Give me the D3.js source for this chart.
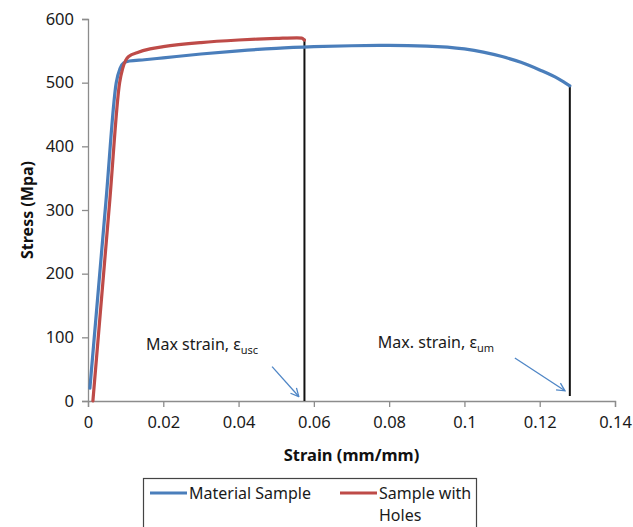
<!DOCTYPE html>
<html>
<head>
<meta charset="utf-8">
<script src="https://cdn.jsdelivr.net/npm/d3@7"></script>
<style>
  html, body { margin: 0; padding: 0; background: #fff; }
  svg { display: block; font-family: "Noto Sans", "Open Sans", sans-serif; }
</style>
</head>
<body>
<svg id="chart" width="633" height="527"></svg>
<script>
// Stress–strain curves (strain in mm/mm, stress in MPa)
const materialStrain = [0.0005, 0.0048, 0.0075, 0.0085, 0.0095, 0.011, 0.015, 0.02, 0.03, 0.04, 0.05, 0.06, 0.07, 0.08, 0.09, 0.1, 0.105, 0.11, 0.115, 0.12, 0.125, 0.128];
const materialStress = [20, 316, 500, 522, 531, 534, 536, 539, 545, 550, 554, 556.5, 558, 558.5, 557.5, 553, 548, 541, 532, 520, 506, 495];

const holesStrain = [0.0013, 0.0058, 0.0084, 0.0092, 0.0100, 0.011, 0.013, 0.0165, 0.02, 0.03, 0.04, 0.045, 0.05, 0.0555, 0.0568, 0.0575];
const holesStress = [0, 316, 500, 522, 535, 542, 547, 553, 556.5, 563, 567, 568.5, 569.5, 570.5, 570, 567];

// Fracture drop lines: [strain, top stress, bottom stress]
const dropStrain = [0.0575, 0.128];
const dropTop = [569, 495];
const dropBottom = [0, 8];

// Annotations
const noteText = ["Max strain, ε", "Max. strain, ε"];
const noteSub = ["usc", "um"];
const noteX = [0.0154, 0.077];
const noteY = [80, 83];
const arrowFrom = [[0.0489, 54], [0.1134, 67.5]];
const arrowTo = [[0.0560, 7], [0.1267, 16]];

const xTicks = [0, 0.02, 0.04, 0.06, 0.08, 0.1, 0.12, 0.14];
const yTicks = [0, 100, 200, 300, 400, 500, 600];

const seriesNames = ["Material Sample", "Sample with Holes"];
const seriesColors = ["#4a7ebb", "#be4b48"];

const svg = d3.select("#chart");
const margin = { left: 88, right: 18, top: 19, bottom: 126 };
const W = 633, H = 527;

const x = d3.scaleLinear().domain([0, 0.14]).range([margin.left, W - margin.right]);
const y = d3.scaleLinear().domain([0, 600]).range([H - margin.bottom, margin.top]);

svg.append("rect").attr("width", W).attr("height", H).attr("fill", "#fff");

// Axes
const axisColor = "#8c8c8c";
const xAxis = svg.append("g")
  .attr("transform", `translate(0,${y(0)})`)
  .call(d3.axisBottom(x).tickValues(xTicks).tickFormat(d => d3.format("~g")(d)).tickSize(6).tickPadding(9));
const yAxis = svg.append("g")
  .attr("transform", `translate(${x(0)},0)`)
  .call(d3.axisLeft(y).tickValues(yTicks).tickSize(6).tickPadding(8));
[xAxis, yAxis].forEach(g => {
  g.select(".domain").attr("stroke", axisColor).attr("stroke-width", 1.3);
  g.selectAll(".tick line").attr("stroke", axisColor).attr("stroke-width", 1.3);
  g.selectAll(".tick text").attr("fill", "#1a1a1a").attr("font-size", 16.5)
    .attr("font-family", "'Noto Sans', sans-serif");
});

// Axis titles
svg.append("text")
  .attr("x", (x(0) + x(0.14)) / 2).attr("y", 461)
  .attr("text-anchor", "middle").attr("font-weight", "bold").attr("font-size", 16.5)
  .attr("fill", "#111").text("Strain (mm/mm)");
svg.append("text")
  .attr("transform", `translate(33,${(y(0) + y(600)) / 2}) rotate(-90)`)
  .attr("text-anchor", "middle").attr("font-weight", "bold").attr("font-size", 16)
  .attr("fill", "#111").text("Stress (Mpa)");

// Curves
const line = d3.line().x(d => x(d[0])).y(d => y(d[1])).curve(d3.curveMonotoneX);
const seriesData = [
  d3.zip(materialStrain, materialStress),
  d3.zip(holesStrain, holesStress)
];

// Fracture lines
svg.selectAll("line.drop")
  .data(dropStrain)
  .join("line")
  .attr("class", "drop")
  .attr("x1", d => x(d)).attr("x2", d => x(d))
  .attr("y1", (d, i) => y(dropTop[i])).attr("y2", (d, i) => y(dropBottom[i]))
  .attr("stroke", "#111").attr("stroke-width", 2);

svg.selectAll("path.series")
  .data(seriesData)
  .join("path")
  .attr("class", "series")
  .attr("d", line)
  .attr("fill", "none")
  .attr("stroke", (d, i) => seriesColors[i])
  .attr("stroke-width", 3.2)
  .attr("stroke-linejoin", "round")
  .attr("stroke-linecap", "round");

// Annotation arrows
const arrowColor = "#4f86c6";
svg.append("defs").append("marker")
  .attr("id", "arrowhead")
  .attr("viewBox", "0 0 10 10").attr("refX", 9).attr("refY", 5)
  .attr("markerWidth", 10).attr("markerHeight", 10)
  .attr("markerUnits", "userSpaceOnUse")
  .attr("orient", "auto")
  .append("path").attr("d", "M1,1 L9,5 L1,9")
  .attr("fill", "none").attr("stroke", arrowColor).attr("stroke-width", 1.3);

svg.selectAll("line.arrow")
  .data(arrowFrom)
  .join("line")
  .attr("class", "arrow")
  .attr("x1", d => x(d[0])).attr("y1", d => y(d[1]))
  .attr("x2", (d, i) => x(arrowTo[i][0])).attr("y2", (d, i) => y(arrowTo[i][1]))
  .attr("stroke", arrowColor).attr("stroke-width", 1.3)
  .attr("marker-end", "url(#arrowhead)");

const notes = svg.selectAll("text.note")
  .data(noteText)
  .join("text")
  .attr("class", "note")
  .attr("x", (d, i) => x(noteX[i])).attr("y", (d, i) => y(noteY[i]))
  .attr("font-size", 16).attr("fill", "#1a1a1a");
notes.append("tspan").text(d => d);
notes.append("tspan").attr("dy", 4).attr("font-size", 11).text((d, i) => noteSub[i]);

// Legend
const lg = svg.append("g");
lg.append("rect")
  .attr("x", 143.5).attr("y", 478.5).attr("width", 333).attr("height", 60)
  .attr("fill", "#fff").attr("stroke", "#444").attr("stroke-width", 1.2);
const legendX = [150, 340];
seriesNames.forEach((name, i) => {
  lg.append("line")
    .attr("x1", legendX[i]).attr("x2", legendX[i] + 37)
    .attr("y1", 493).attr("y2", 493)
    .attr("stroke", seriesColors[i]).attr("stroke-width", 3);
  const words = i === 1 ? ["Sample with", "Holes"] : [name];
  words.forEach((w, k) => {
    lg.append("text")
      .attr("x", legendX[i] + 39).attr("y", 499 + k * 22)
      .attr("font-size", 16).attr("fill", "#1a1a1a").text(w);
  });
});
</script>
</body>
</html>
